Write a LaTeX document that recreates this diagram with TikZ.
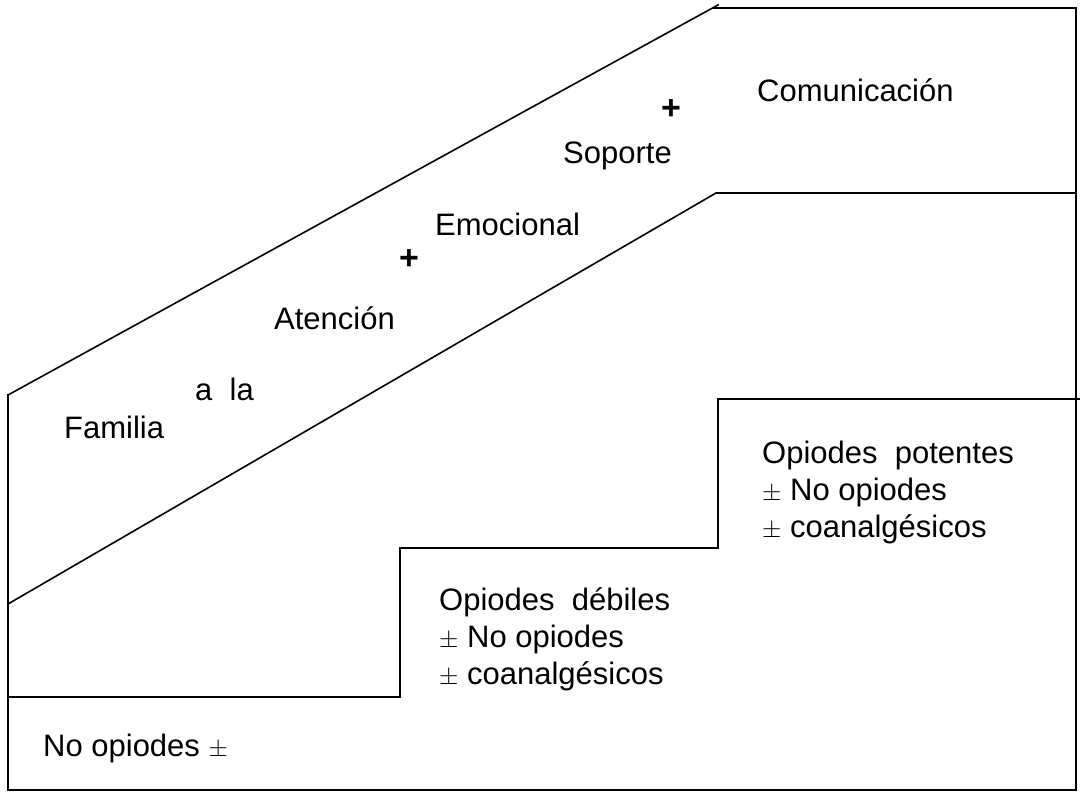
\documentclass[tikz,border=0pt]{standalone}
\usepackage{fontspec}
\setmainfont{Liberation Sans}
\begin{document}
\begin{tikzpicture}[x=1pt,y=-1pt,
  edge/.style={line width=1.6pt,line cap=rect},
  lbl/.style={anchor=base west,inner sep=0pt,font=\fontsize{31}{37}\selectfont},
  plus/.style={inner sep=0pt,font=\fontsize{34}{36}\selectfont\bfseries}]
\useasboundingbox (0,0) rectangle (1080,792);
% outer frame
\draw[edge] (8,395) -- (8,790) -- (1076,790) -- (1076,8) -- (713,8);
% upper band
\draw[edge] (8,395) -- (718,5);
\draw[edge] (8,604) -- (716,193) -- (1076,193);
% analgesic steps
\draw[edge] (8,697) -- (400,697) -- (400,548) -- (718,548) -- (718,399) -- (1080,399);
% band labels
\node[lbl] (com) at (757,102) {Comunicación};
\node[plus] (p1) at (671,110) {+};
\node[lbl] (sop) at (563,163) {Soporte};
\node[lbl] (emo) at (435,235) {Emocional};
\node[plus] (p2) at (409,260) {+};
\node[lbl] (ate) at (274,329) {Atención};
\node[lbl] (ala) at (195,400) {a\ \ la};
\node[lbl] (fam) at (64,438) {Familia};
% step labels
\node[lbl] (pot1) at (762,463) {Opiodes\ \ potentes};
\node[lbl] (pot2) at (762,500) {$\pm$ No opiodes};
\node[lbl] (pot3) at (762,537) {$\pm$ coanalgésicos};
\node[lbl] (deb1) at (439,610) {Opiodes\ \ débiles};
\node[lbl] (deb2) at (439,647) {$\pm$ No opiodes};
\node[lbl] (deb3) at (439,684) {$\pm$ coanalgésicos};
\node[lbl] (no) at (43,756) {No opiodes $\pm$};
\end{tikzpicture}
\end{document}
